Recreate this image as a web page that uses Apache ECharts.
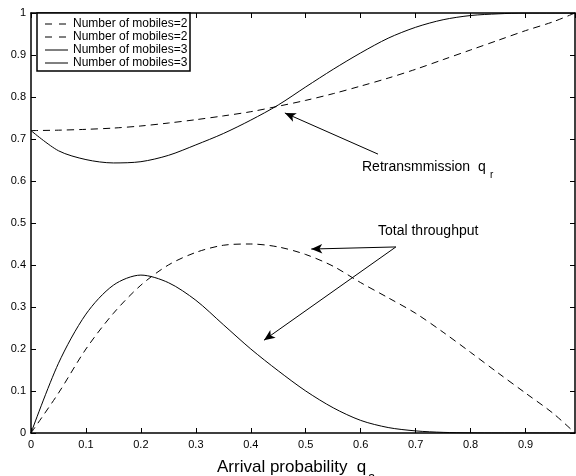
<!DOCTYPE html>
<html>
<head>
<meta charset="utf-8">
<script src="https://cdn.jsdelivr.net/npm/echarts@6/dist/echarts.min.js"></script>
<style>
html,body{margin:0;padding:0;background:#fff;}
#chart{width:576px;height:476px;}
</style>
</head>
<body>
<div id="chart"></div>
<script>
// Arrival probability q_a
const xs = [0, 0.05, 0.1, 0.15, 0.2, 0.25, 0.3, 0.35, 0.4, 0.45, 0.5, 0.55, 0.6, 0.65, 0.7, 0.75, 0.8, 0.85, 0.9, 0.95, 0.99];
// Retransmission q_r, number of mobiles = 2 (dashed)
const retx2 = [0.72, 0.721, 0.723, 0.726, 0.731, 0.738, 0.746, 0.755, 0.765, 0.778, 0.792, 0.808, 0.826, 0.845, 0.866, 0.889, 0.912, 0.935, 0.958, 0.979, 1.0];
// Retransmission q_r, number of mobiles = 3 (solid)
const retx3 = [0.72, 0.672, 0.651, 0.643, 0.646, 0.661, 0.686, 0.713, 0.745, 0.781, 0.824, 0.866, 0.905, 0.940, 0.966, 0.984, 0.994, 0.998, 1.0, 1.0, 1.0];
// Total throughput, number of mobiles = 2 (dashed)
const thr2 = [0, 0.095, 0.2, 0.285, 0.352, 0.4, 0.43, 0.447, 0.45, 0.443, 0.425, 0.397, 0.358, 0.322, 0.285, 0.24, 0.192, 0.143, 0.095, 0.047, 0.0];
// Total throughput, number of mobiles = 3 (solid)
const thr3 = [0, 0.166, 0.283, 0.352, 0.376, 0.358, 0.316, 0.258, 0.2, 0.148, 0.1, 0.06, 0.03, 0.013, 0.005, 0.0015, 0.0003, 0, 0, 0, 0];

const xTicks = [0, 0.1, 0.2, 0.3, 0.4, 0.5, 0.6, 0.7, 0.8, 0.9];
const yTicks = [0, 0.1, 0.2, 0.3, 0.4, 0.5, 0.6, 0.7, 0.8, 0.9, 1];
const legendNames = ['Number of mobiles=2', 'Number of mobiles=2', 'Number of mobiles=3', 'Number of mobiles=3'];

// annotation arrows (data coordinates): [from, to]
const arrows = [
  [[0.6315, 0.664], [0.462, 0.762]],
  [[0.664, 0.443], [0.51, 0.438]],
  [[0.664, 0.443], [0.424, 0.221]]
];

const FONT = 'Liberation Sans, Arial, sans-serif';
const dash = [7, 5];
function pairs(ys) { return xs.map((x, i) => [x, ys[i]]); }

const chart = echarts.init(document.getElementById('chart'), null, {renderer: 'canvas'});

function baseX(pos, showLabel) {
  return {
    type: 'value', position: pos, min: 0, max: 0.99, interval: 0.1,
    axisLine: {show: true, onZero: false, lineStyle: {color: '#000', width: 1.5}},
    axisTick: {show: true, inside: true, length: 5, lineStyle: {color: '#000', width: 1}},
    axisLabel: {show: showLabel, color: '#000', fontSize: 11, fontFamily: FONT, margin: 6,
      showMaxLabel: false,
      formatter: v => { const t = xTicks.find(k => Math.abs(k - v) < 1e-6); return t === undefined ? '' : String(t); }},
    splitLine: {show: false}
  };
}
function baseY(pos, showLabel) {
  return {
    type: 'value', position: pos, min: 0, max: 1, interval: 0.1,
    axisLine: {show: true, onZero: false, lineStyle: {color: '#000', width: 1.5}},
    axisTick: {show: true, inside: true, length: 5, lineStyle: {color: '#000', width: 1}},
    axisLabel: {show: showLabel, color: '#000', fontSize: 11, fontFamily: FONT, margin: 5,
      formatter: v => { const t = yTicks.find(k => Math.abs(k - v) < 1e-6); return t === undefined ? '' : String(t); }},
    splitLine: {show: false}
  };
}

function lineSeries(name, ys, dashed, extra) {
  return Object.assign({
    name: name, type: 'line', data: pairs(ys), symbol: 'none',
    smooth: 0.3, silent: true,
    lineStyle: {color: '#000', width: 1, type: dashed ? dash : 'solid'},
    xAxisIndex: 0, yAxisIndex: 0, z: 3
  }, extra || {});
}

const legendLeft = 37, legendTop = 13, legendW = 153, legendH = 58;
const rowY = [24, 37, 50, 63];
const graphics = [
  {type: 'rect', shape: {x: legendLeft, y: legendTop, width: legendW, height: legendH},
   style: {fill: '#fff', stroke: '#000', lineWidth: 1.5}, z: 10}
];
legendNames.forEach((n, i) => {
  graphics.push({type: 'line', shape: {x1: 45, y1: rowY[i], x2: 68, y2: rowY[i]},
    style: {stroke: '#000', lineWidth: 1, lineDash: i < 2 ? [7, 7] : null}, z: 11});
  graphics.push({type: 'text', style: {x: 73, y: rowY[i], text: n, fill: '#000',
    font: '12px ' + FONT, verticalAlign: 'middle', align: 'left'}, z: 11});
});
graphics.push(
  {type: 'text', style: {x: 362, y: 174, text: 'Retransmmission  q', fill: '#000', font: '14px ' + FONT, verticalAlign: 'bottom'}, z: 11},
  {type: 'text', style: {x: 490, y: 180, text: 'r', fill: '#000', font: '10px ' + FONT, verticalAlign: 'bottom'}, z: 11},
  {type: 'text', style: {x: 378, y: 238, text: 'Total throughput', fill: '#000', font: '14px ' + FONT, verticalAlign: 'bottom'}, z: 11},
  {type: 'text', style: {x: 217, y: 476, text: 'Arrival probability  q', fill: '#000', font: '17px ' + FONT, verticalAlign: 'bottom'}, z: 11},
  {type: 'text', style: {x: 368, y: 484, text: 'a', fill: '#000', font: '13px ' + FONT, verticalAlign: 'bottom'}, z: 11}
);

const option = {
  animation: false,
  backgroundColor: '#fff',
  grid: {left: 31, right: 1, top: 13, bottom: 43, containLabel: false},
  xAxis: [baseX('bottom', true), baseX('top', false)],
  yAxis: [baseY('left', true), baseY('right', false)],
  series: [
    lineSeries('Number of mobiles=2', retx2, true),
    lineSeries('Number of mobiles=2 (throughput)', thr2, true),
    lineSeries('Number of mobiles=3', retx3, false, {
      markLine: {
        silent: true, animation: false,
        symbol: ['none', 'arrow'], symbolSize: [7, 11],
        label: {show: false},
        lineStyle: {color: '#000', width: 1, type: 'solid'},
        data: arrows.map(a => [{coord: a[0]}, {coord: a[1]}])
      }
    }),
    lineSeries('Number of mobiles=3 (throughput)', thr3, false)
  ],
  graphic: graphics
};
chart.setOption(option);
</script>
</body>
</html>
